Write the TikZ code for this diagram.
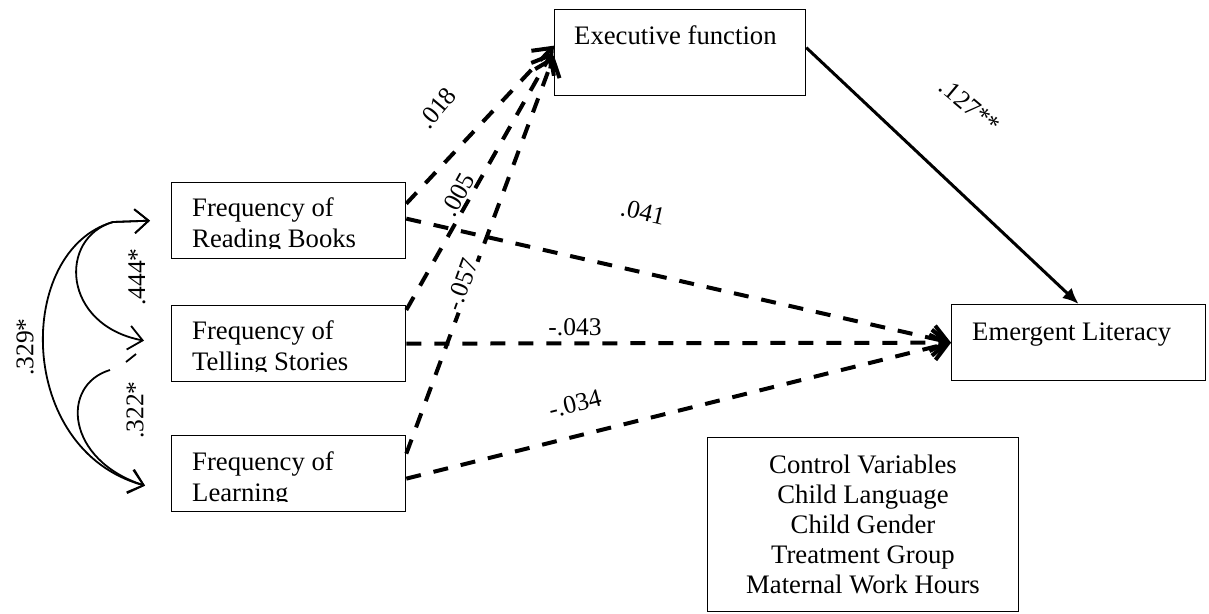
\documentclass[tikz,border=0pt]{standalone}
\usepackage{fontspec}
\setmainfont{Liberation Serif}
\usetikzlibrary{arrows.meta,calc}
\begin{document}
\begin{tikzpicture}[x=1pt,y=-1pt,
  boxn/.style={draw, line width=1.3pt, inner sep=0, anchor=north west},
  txt/.style={anchor=base west, inner sep=0, font=\fontsize{26.7}{31}\selectfont},
  ctxt/.style={anchor=base, inner sep=0, font=\fontsize{26.7}{31}\selectfont},
  lbl/.style={inner sep=0.5pt, fill=white, font=\fontsize{25.5}{28}\selectfont},
  dpath/.style={line width=4pt, dash pattern=on 15pt off 13pt, -{Straight Barb[length=16pt,width=26pt]}},
  spath/.style={line width=3pt, -{Latex[length=16pt,width=14pt]}},
  cpath/.style={line width=1.8pt, {Straight Barb[length=14pt,width=24pt]}-{Straight Barb[length=14pt,width=24pt]}},
  cpathend/.style={line width=1.8pt, -{Straight Barb[length=14pt,width=24pt]}},
]
\useasboundingbox (0,0) rectangle (1209,613);

% boxes
\node[boxn, minimum width=234pt, minimum height=76pt] (rb) at (171,182) {};
\node[boxn, minimum width=234pt, minimum height=76pt] (tl) at (171,305) {};
\node[boxn, minimum width=234pt, minimum height=76pt] (lr) at (171,435) {};
\node[boxn, minimum width=251pt, minimum height=86pt] (ef) at (554,9) {};
\node[boxn, minimum width=254pt, minimum height=76pt] (el) at (951,304) {};
\node[boxn, minimum width=311pt, minimum height=174pt] (cv) at (707,437) {};

% box texts (clipped like the reference)
\begin{scope}
\clip (rb.north west) rectangle ([yshift=11pt]rb.south east);
\node[txt] (rb1) at (192,216) {Frequency of};
\node[txt] (rb2) at (192,247) {Reading Books};
\end{scope}
\begin{scope}
\clip (tl.north west) rectangle ([yshift=11pt]tl.south east);
\node[txt] (tl1) at (192,339) {Frequency of};
\node[txt] (tl2) at (192,370) {Telling Stories};
\end{scope}
\begin{scope}
\clip (lr.north west) rectangle ([yshift=11pt]lr.south east);
\node[txt] (lr1) at (192,470) {Frequency of};
\node[txt] (lr2) at (192,501) {Learning};
\end{scope}
\node[txt] (eft) at (574,44) {Executive function};
\node[txt] (elt) at (972,340) {Emergent Literacy};
\node[ctxt] (cv1) at (863,473) {Control Variables};
\node[ctxt] (cv2) at (863,503) {Child Language};
\node[ctxt] (cv3) at (863,533) {Child Gender};
\node[ctxt] (cv4) at (863,563) {Treatment Group};
\node[ctxt] (cv5) at (863,593) {Maternal Work Hours};

% dashed paths
\draw[dpath] ([yshift=17pt]rb.east) -- ([yshift=7pt]ef.west);
\draw[dpath] ([yshift=-5pt]tl.north east) -- ([xshift=-2pt]ef.west);
\draw[dpath] ([yshift=20pt]lr.east) -- ([yshift=-3pt]ef.west);
\draw[dpath] ([yshift=2pt]rb.east) -- (el.west);
\draw[dpath] (tl.east) -- (el.west);
\draw[dpath] ([yshift=-5pt]lr.east) -- (el.west);
\draw[spath] ([yshift=5pt]ef.east) -- (el.north);

% correlations on the left
\coordinate (rbin) at ([xshift=-21pt]rb.west);
\coordinate (tsin) at ([xshift=-27pt,yshift=3pt]tl.west);
\coordinate (lrin) at ([xshift=-26pt,yshift=-12pt]lr.west);
\coordinate (c322s) at (110,370);
\draw[cpath] (rbin) -- (113,222) .. controls (58,238) and (62,325) .. (tsin);
\draw[cpath] (rbin) -- (113,222) .. controls (15,250) and (15,450) .. (lrin);
\draw[cpathend] (c322s) .. controls (60,385) and (66,460) .. (lrin);
\draw[line width=1.8pt] (126,362) -- (136,354);

% labels
\node[lbl, rotate=90] (l444) at (137,277) {.444*};
\node[lbl, rotate=90] (l329) at (25,347) {.329*};
\node[lbl, rotate=90] (l322) at (135,410) {.322*};
\node[lbl, rotate=50] (l018) at (437,108) {.018};
\node[lbl, rotate=61] (l005) at (458,195) {.005};
\node[lbl, rotate=70] (l057) at (462,285) {-.057};
\node[lbl, rotate=-13] (l041) at (643,212) {.041};
\node[lbl] (l043) at (575,327) {-.043};
\node[lbl, rotate=14] (l034) at (575,404) {-.034};
\node[lbl, rotate=-40] (l127) at (970,106) {.127**};
\end{tikzpicture}
\end{document}
